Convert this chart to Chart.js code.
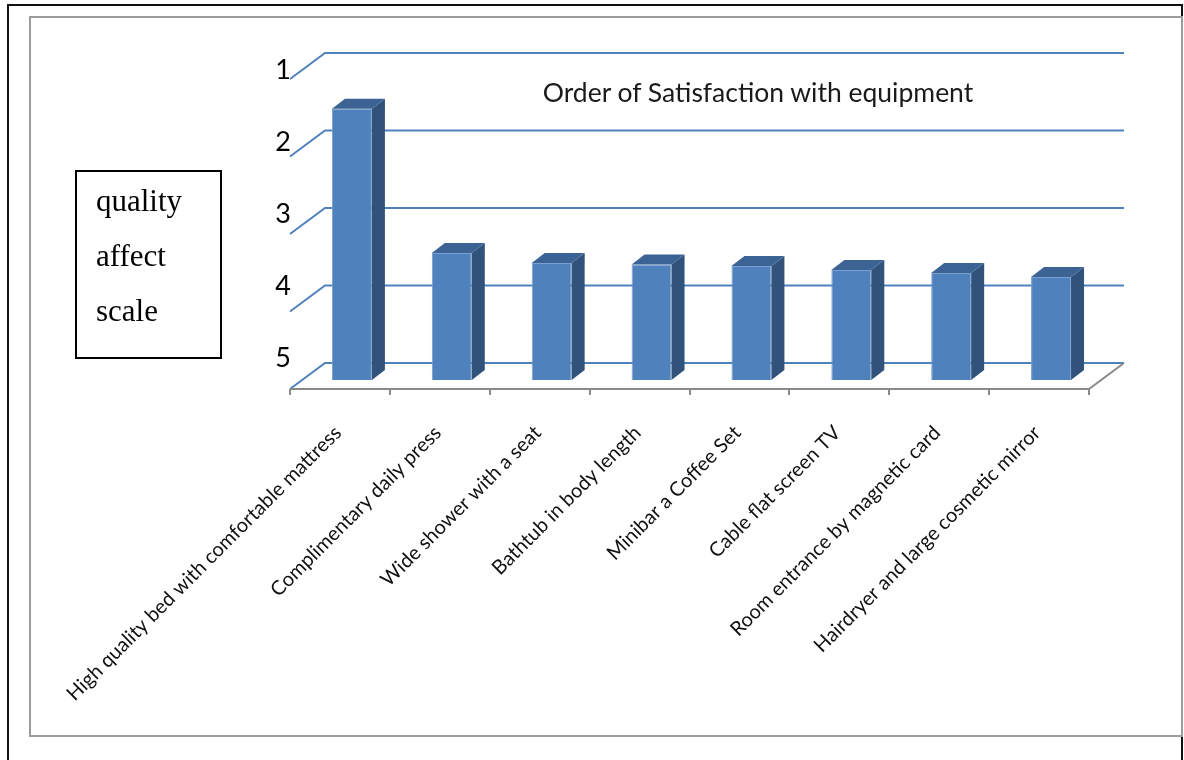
<!DOCTYPE html>
<html lang="en">
<head>
    <meta charset="UTF-8">
    <title>Order of Satisfaction with equipment</title>
    <script src="https://cdn.jsdelivr.net/npm/chart.js"></script>
    <style>
        html, body { margin: 0; padding: 0; background: #fff; }
        body { width: 1184px; height: 760px; position: relative; overflow: hidden; }
        #page { position: absolute; left: 7px; top: 4px; width: 1172px; height: 800px; border: 2px solid #111; border-bottom: none; }
        #frame { position: absolute; left: 29px; top: 16px; width: 1150px; height: 717px; border: 2px solid #9c9c9c; background: #fff; }
        #wrap { position: absolute; left: 0; top: 0; width: 1184px; height: 760px; }
        #title { position: absolute; left: 758px; top: 92px; transform: translate(-50%, -50%); font-family: Lato, sans-serif; font-size: 26.5px; color: #1a1a1a; white-space: nowrap; }
        #note { position: absolute; left: 75px; top: 170px; width: 147px; height: 189px; box-sizing: border-box; border: 2px solid #000; padding: 1px 0 0 19px; font-family: "Liberation Serif", serif; font-size: 31px; line-height: 55px; color: #000; }
    </style>
</head>
<body>
    <div id="page"></div>
    <div id="frame"></div>
    <div id="wrap"><canvas id="chart" width="1184" height="760"></canvas></div>
    <div id="title">Order of Satisfaction with equipment</div>
    <div id="note">quality<br>affect<br>scale</div>

    <script>
        // data (rank 1 = best, bars grow up from 5)
        const items = [
            "High quality bed with comfortable mattress",
            "Complimentary daily press",
            "Wide shower with a seat",
            "Bathtub in body length",
            "Minibar a Coffee Set",
            "Cable flat screen TV",
            "Room entrance by magnetic card",
            "Hairdryer and large cosmetic mirror"
        ];
        const rankValues = [1.50, 3.36, 3.49, 3.51, 3.53, 3.58, 3.62, 3.67];
        const rankTicks = [1, 2, 3, 4, 5];

        // 3D look: offsets from the bar front plane
        const BACK = { x: 23, y: -17 };
        const FRONT = { x: -12, y: 9 };
        const BAR_DEPTH = { x: 13, y: -10 };

        const fake3d = {
            id: 'fake3d',
            beforeDatasetsDraw(chart) {
                const ctx = chart.ctx;
                const area = chart.chartArea;
                const y = chart.scales.y;
                const x = chart.scales.x;
                ctx.save();
                ctx.lineWidth = 2;
                ctx.strokeStyle = '#4F81BD';
                rankTicks.forEach(v => {
                    const py = y.getPixelForValue(v);
                    ctx.beginPath();
                    ctx.moveTo(area.left + FRONT.x, py + FRONT.y);
                    ctx.lineTo(area.left + BACK.x, py + BACK.y);
                    ctx.lineTo(area.right + BACK.x, py + BACK.y);
                    ctx.stroke();
                });
                // floor edge + category ticks
                const pb = y.getPixelForValue(5);
                ctx.strokeStyle = '#8a8a8a';
                ctx.beginPath();
                ctx.moveTo(area.left + FRONT.x, pb + FRONT.y);
                ctx.lineTo(area.right + FRONT.x, pb + FRONT.y);
                ctx.lineTo(area.right + BACK.x, pb + BACK.y);
                ctx.stroke();
                const step = x.getPixelForValue(1) - x.getPixelForValue(0);
                for (let i = 0; i <= items.length; i++) {
                    const px = Math.round(x.getPixelForValue(0) - step / 2 + i * step + FRONT.x);
                    ctx.beginPath();
                    ctx.moveTo(px, pb + FRONT.y);
                    ctx.lineTo(px, pb + FRONT.y + 6);
                    ctx.stroke();
                }
                ctx.restore();
            },
            afterDatasetsDraw(chart) {
                const ctx = chart.ctx;
                ctx.save();
                chart.getDatasetMeta(0).data.forEach(bar => {
                    const l = bar.x - bar.width / 2;
                    const r = bar.x + bar.width / 2;
                    const t = Math.min(bar.y, bar.base);
                    const b = Math.max(bar.y, bar.base);
                    // side
                    ctx.fillStyle = '#31527B';
                    ctx.beginPath();
                    ctx.moveTo(r, t);
                    ctx.lineTo(r + BAR_DEPTH.x, t + BAR_DEPTH.y);
                    ctx.lineTo(r + BAR_DEPTH.x, b + BAR_DEPTH.y);
                    ctx.lineTo(r, b);
                    ctx.closePath();
                    ctx.fill();
                    // top
                    ctx.fillStyle = '#3B6394';
                    ctx.beginPath();
                    ctx.moveTo(l, t);
                    ctx.lineTo(l + BAR_DEPTH.x, t + BAR_DEPTH.y);
                    ctx.lineTo(r + BAR_DEPTH.x, t + BAR_DEPTH.y);
                    ctx.lineTo(r, t);
                    ctx.closePath();
                    ctx.fill();
                });
                ctx.restore();
            }
        };

        new Chart(document.getElementById('chart'), {
            type: 'bar',
            data: {
                labels: items,
                datasets: [{
                    data: rankValues,
                    base: 5,
                    backgroundColor: '#4F81BD',
                    borderColor: '#7A9FD0',
                    borderWidth: 1,
                    barPercentage: 0.4,
                    categoryPercentage: 1.0
                }]
            },
            options: {
                responsive: false,
                animation: false,
                layout: { padding: { top: 70, right: 83, bottom: 0, left: 242 } },
                plugins: { legend: { display: false }, tooltip: { enabled: false } },
                scales: {
                    x: {
                        offset: true,
                        grid: { display: false },
                        border: { display: false },
                        ticks: {
                            autoSkip: false,
                            minRotation: 45,
                            maxRotation: 45,
                            labelOffset: -14,
                            padding: 33,
                            color: '#111',
                            font: { family: 'Lato', size: 20 }
                        },
                        afterFit: s => { s.height = 380; }
                    },
                    y: {
                        display: false,
                        reverse: true,
                        min: 1,
                        max: 5,
                        ticks: { stepSize: 1 }
                    },
                    yLabels: {
                        type: 'linear',
                        position: 'left',
                        reverse: true,
                        min: 1,
                        max: 5.306,
                        grid: { display: false },
                        border: { display: false },
                        ticks: {
                            stepSize: 1,
                            includeBounds: false,
                            padding: 3,
                            color: '#000',
                            font: { family: 'Lato', size: 27 },
                            callback: v => Number.isInteger(v) ? v : ''
                        },
                        afterFit: s => { s.width = 60; }
                    }
                }
            },
            plugins: [fake3d]
        });
    </script>
</body>
</html>
